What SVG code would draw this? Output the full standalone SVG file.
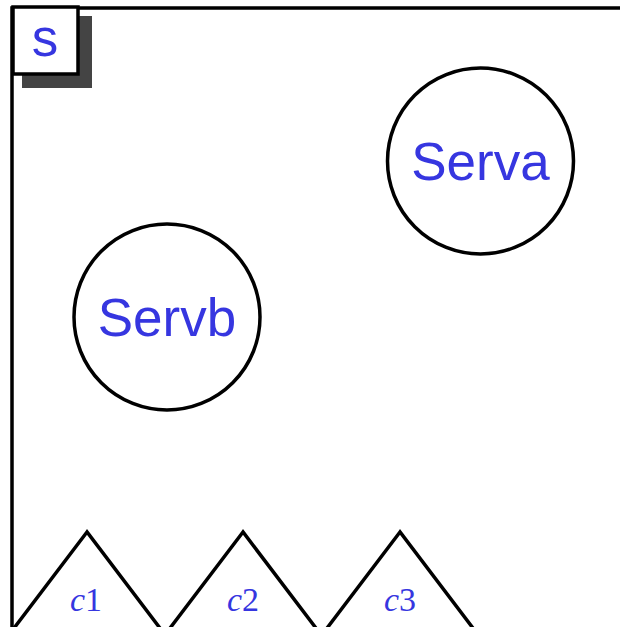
<svg xmlns="http://www.w3.org/2000/svg" width="620" height="627" viewBox="0 0 620 627">
<style>
.ln{fill:none;stroke:#000;stroke-width:3.5}
.nd{fill:#fff;stroke:#000;stroke-width:3.5}
.lb{font-family:"Liberation Sans",Arial,sans-serif;font-size:53px;fill:#3636e0;text-anchor:middle}
.ml{font-family:"Liberation Serif","Times New Roman",serif;font-size:34px;fill:#3636e0;text-anchor:middle}
</style>
<rect width="620" height="627" fill="#fff"/>
<g id="frame">
<polyline class="ln" points="12,640 12,8 630,8"/>
</g>
<g id="s">
<rect x="22" y="16" width="70" height="72" fill="#444"/>
<rect class="nd" x="13" y="7" width="65" height="67"/>
<text class="lb" x="45" y="56">s</text>
</g>
<g id="Serva">
<circle class="nd" cx="480.5" cy="161" r="93"/>
<text class="lb" x="480.5" y="180">Serva</text>
</g>
<g id="Servb">
<circle class="nd" cx="167" cy="317" r="93"/>
<text class="lb" x="167" y="336">Servb</text>
</g>
<g id="c1">
<polygon class="nd" points="87,532 5,640 169,640"/>
<text class="ml" x="86" y="611"><tspan font-style="italic">c</tspan>1</text>
</g>
<g id="c2">
<polygon class="nd" points="243,532 161,640 325,640"/>
<text class="ml" x="243" y="611"><tspan font-style="italic">c</tspan>2</text>
</g>
<g id="c3">
<polygon class="nd" points="400,532 318,640 482,640"/>
<text class="ml" x="400" y="611"><tspan font-style="italic">c</tspan>3</text>
</g>
<g id="connectors"></g>
</svg>
